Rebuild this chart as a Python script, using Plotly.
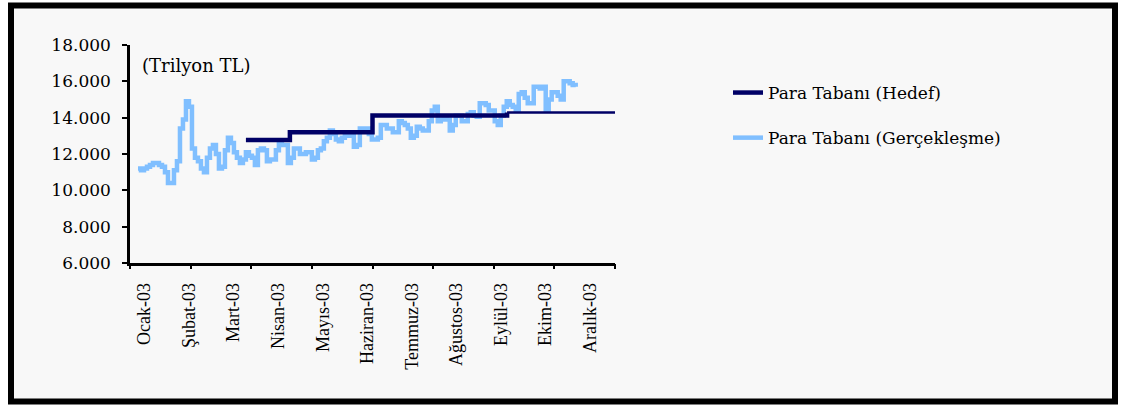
import pandas as pd
import plotly.graph_objects as go

# Para tabanı, günlük gerçekleşme (TL, 2003)
gerceklesme_baslangic = "2002-12-27"
gerceklesme = [
    11200, 11100, 11200, 11300, 11400, 11500, 11500, 11400, 11300, 11000,
    10400, 10400, 11100, 11600, 13400, 13900, 14900, 14600, 12300, 11800,
    11600, 11200, 11000, 11800, 12300, 12500, 12000, 11200, 11300, 12200,
    12900, 12600, 12100, 11800, 11500, 11700, 12100, 11900, 11800, 11400,
    12200, 12300, 12200, 11600, 11700, 11700, 12200, 12700, 12500, 12500,
    11500, 11800, 12300, 12300, 12000, 12000, 12100, 12100, 11700, 11800,
    12200, 12300, 12700, 12900, 13300, 13100, 12800, 12700, 12900, 13000,
    13100, 13000, 12400, 12500, 13400, 13300, 13400, 13100, 12800, 12800,
    12900, 13600, 13600, 13400, 13400, 13200, 13200, 13800, 13700, 13600,
    13400, 12900, 13000, 13500, 13400, 13300, 13300, 13800, 14400, 14600,
    13800, 13900, 14050, 13900, 13300, 13600, 14100, 14100, 13800, 13800,
    14200, 14300, 14100, 14050, 14800, 14800, 14700, 14400, 14400, 13800,
    13600, 14100, 14600, 14900, 14700, 14600, 14400, 15300, 15400, 15100,
    14800, 14800, 15700, 15700, 15600, 15700, 14400, 15000, 15400, 15400,
    15200, 15000, 16000, 16000, 15900, 15800, 15700,
]

# Hedef para tabanı: kademe başlangıç tarihleri ve düzeyleri
hedef_tarih = ["2003-03-18", "2003-04-20", "2003-06-21", "2003-09-30", "2003-12-21"]
hedef = [12770, 13200, 14120, 14280, 14280]

# Eksen etiketleri
ay_etiketleri = ["Ocak-03", "Şubat-03", "Mart-03", "Nisan-03", "Mayıs-03",
                 "Haziran-03", "Temmuz-03", "Ağustos-03", "Eylül-03", "Ekim-03",
                 "Aralık-03"]
y_tikleri = [6000, 8000, 10000, 12000, 14000, 16000, 18000]

X_ARALIK = ["2002-12-21", "2003-12-20"]
Y_ARALIK = [6000, 18000]

W, H = 1121, 405
L, R, T, B = 130, 506, 45, 142
PW, PH = W - L - R, H - T - B

def px_x(p):
    return (p - L) / PW

def px_y(p):
    return (H - B - p) / PH

tarih = pd.date_range(gerceklesme_baslangic, periods=len(gerceklesme), freq="54h")
etiket_yerleri = pd.date_range("2003-01-01", "2003-12-01", periods=len(ay_etiketleri))
tik_yerleri = pd.date_range(X_ARALIK[0], X_ARALIK[1], periods=9)

KOYU = "#000066"
ACIK = "#80bfff"
SERIF = "DejaVu Serif"
TIMES = "Liberation Serif"

fig = go.Figure()
fig.add_trace(go.Scatter(
    x=tarih, y=gerceklesme, mode="lines", name="Para Tabanı (Gerçekleşme)",
    line=dict(color=ACIK, width=4.5, shape="hv"), legendrank=2, legendgroup="g",
))
fig.add_trace(go.Scatter(
    x=hedef_tarih[:4], y=hedef[:4], mode="lines", name="Para Tabanı (Hedef)",
    line=dict(color=KOYU, width=4.5, shape="hv"), legendrank=1, legendgroup="h",
))
fig.add_trace(go.Scatter(
    x=hedef_tarih[3:], y=hedef[3:], mode="lines", showlegend=False,
    line=dict(color=KOYU, width=2.5, shape="hv"), legendgroup="h",
))
# tik çizgileri için ikinci eksen
fig.add_trace(go.Scatter(x=[], y=[], xaxis="x2", showlegend=False, hoverinfo="skip"))

fig.update_layout(
    width=W, height=H,
    margin=dict(l=L, r=R, t=T, b=B),
    paper_bgcolor="white",
    plot_bgcolor="rgba(0,0,0,0)",
    separators=",.",
    showlegend=True,
    xaxis=dict(
        type="date", range=X_ARALIK, tickvals=list(etiket_yerleri),
        ticktext=ay_etiketleri,
        tickangle=-90, ticks="", showline=True, linecolor="black", linewidth=2.5,
        showgrid=False, zeroline=False, ticklabelstandoff=10,
        tickfont=dict(family=TIMES, size=18, color="black"),
    ),
    xaxis2=dict(
        type="date", range=X_ARALIK, overlaying="x", anchor="y", side="bottom",
        tickvals=list(tik_yerleri), ticks="outside", ticklen=5, tickwidth=2,
        tickcolor="black", showticklabels=False, showgrid=False, showline=False,
        zeroline=False,
    ),
    yaxis=dict(
        range=Y_ARALIK, tickvals=y_tikleri, tickformat=",d", ticks="outside",
        ticklen=5, tickwidth=2, tickcolor="black", showline=True,
        linecolor="black", linewidth=2.5, showgrid=False, zeroline=False,
        ticklabelstandoff=8,
        tickfont=dict(family=SERIF, size=17, color="black"),
    ),
    legend=dict(
        x=px_x(728), y=px_y(75), xanchor="left", yanchor="top",
        bgcolor="rgba(0,0,0,0)", tracegroupgap=20,
        font=dict(family=SERIF, size=17, color="black"),
    ),
    annotations=[dict(
        text="(Trilyon TL)", xref="paper", yref="paper", x=px_x(140), y=px_y(65),
        xanchor="left", yanchor="middle", showarrow=False,
        font=dict(family=SERIF, size=18, color="black"),
    )],
    shapes=[dict(
        type="rect", xref="paper", yref="paper", layer="below",
        x0=px_x(11), x1=px_x(1115), y0=px_y(401.5), y1=px_y(5.5),
        line=dict(color="black", width=6), fillcolor="#f8f8f8",
    )],
)

fig.write_html("out.html")
